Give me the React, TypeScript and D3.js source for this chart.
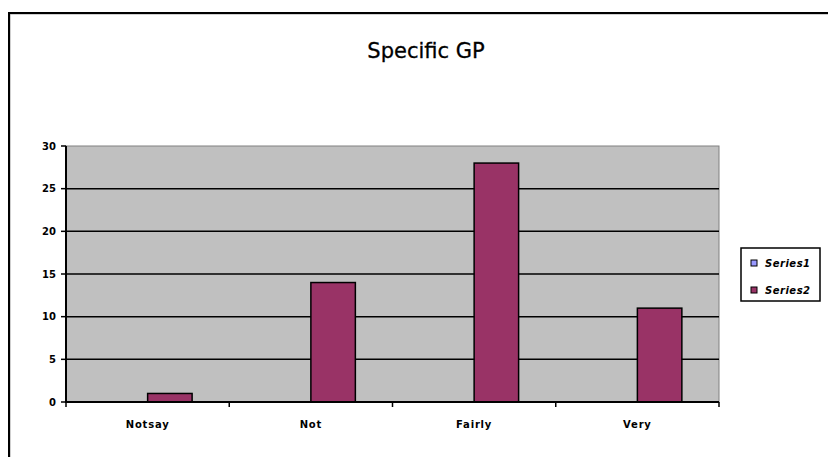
import React from "react";
import * as d3 from "d3";

const categories = ["Notsay", "Not", "Fairly", "Very"];
const series1: (number | null)[] = [null, null, null, null];
const series2 = [1, 14, 28, 11];
const seriesNames = ["Series1", "Series2"];
const seriesColors = ["#9999ff", "#993366"];
const yTicks = [0, 5, 10, 15, 20, 25, 30];
const title = "Specific GP";

const W = 828;
const H = 457;
const plot = { left: 66, right: 719, top: 146, bottom: 402 };

export default function App() {
  const x = d3
    .scaleBand<string>()
    .domain(categories)
    .range([plot.left, plot.right])
    .paddingInner(0)
    .paddingOuter(0);
  const y = d3.scaleLinear().domain([0, 30]).range([plot.bottom, plot.top]);
  const bw = x.bandwidth() * 0.2725;
  const seriesData = [series1, series2];
  const labelFont = "'DejaVu Sans', sans-serif";

  return (
    <svg
      width={W}
      height={H}
      style={{ position: "absolute", left: 0, top: 0, background: "#fff" }}
    >
      {/* outer frame */}
      <rect x={10} y={14} width={W} height={H} fill="none" stroke="#a0a0a0" strokeWidth={1} />
      <rect x={9} y={13} width={W + 10} height={H + 10} fill="none" stroke="#000" strokeWidth={2} />

      <text
        x={426}
        y={58}
        textAnchor="middle"
        fontFamily={labelFont}
        fontSize={21}
        fill="#000"
        stroke="#000"
        strokeWidth={0.3}
      >
        {title}
      </text>

      {/* plot area */}
      <rect
        x={plot.left}
        y={plot.top}
        width={plot.right - plot.left}
        height={plot.bottom - plot.top}
        fill="#c0c0c0"
        stroke="#808080"
        strokeWidth={1}
      />

      {/* gridlines */}
      {yTicks
        .filter((t) => t > 0 && t < 30)
        .map((t) => (
          <line
            key={"g" + t}
            x1={plot.left}
            x2={plot.right}
            y1={y(t)}
            y2={y(t)}
            stroke="#000"
            strokeWidth={1.5}
          />
        ))}

      {/* bars */}
      {seriesData.map((vals, si) =>
        vals.map((v, i) => {
          if (v === null || v === 0) return null;
          const cx = (x(categories[i]) as number) + x.bandwidth() / 2;
          const bx = cx - bw + si * bw;
          return (
            <rect
              key={`b${si}-${i}`}
              x={bx}
              y={y(v)}
              width={bw}
              height={y(0) - y(v)}
              fill={seriesColors[si]}
              stroke="#000"
              strokeWidth={1.5}
            />
          );
        })
      )}

      {/* axes */}
      <line x1={plot.left} x2={plot.left} y1={plot.top} y2={plot.bottom + 1} stroke="#000" strokeWidth={2} />
      <line x1={plot.left - 1} x2={plot.right} y1={plot.bottom} y2={plot.bottom} stroke="#000" strokeWidth={2} />

      {yTicks.map((t) => (
        <g key={"yt" + t}>
          <line x1={plot.left - 5} x2={plot.left} y1={y(t)} y2={y(t)} stroke="#000" strokeWidth={1.5} />
          <text
            x={plot.left - 10}
            y={y(t) + 3.5}
            textAnchor="end"
            fontFamily={labelFont}
            fontWeight="bold"
            fontSize={10}
            fill="#000"
          >
            {t}
          </text>
        </g>
      ))}

      {[...categories.map((c) => x(c) as number), plot.right].map((px, i) => (
        <line key={"xt" + i} x1={px} x2={px} y1={plot.bottom} y2={plot.bottom + 5} stroke="#000" strokeWidth={1.5} />
      ))}

      {categories.map((c) => (
        <text
          key={"xl" + c}
          x={(x(c) as number) + x.bandwidth() / 2}
          y={428}
          textAnchor="middle"
          fontFamily={labelFont}
          fontWeight="bold"
          fontSize={10}
          letterSpacing={0.8}
          fill="#000"
        >
          {c}
        </text>
      ))}

      {/* legend */}
      <rect x={741} y={248} width={79} height={53} fill="#fff" stroke="#000" strokeWidth={1.5} />
      {seriesNames.map((n, i) => (
        <g key={"lg" + n}>
          <rect
            x={751}
            y={260 + i * 27}
            width={6}
            height={6}
            fill={seriesColors[i]}
            stroke="#000"
            strokeWidth={1}
          />
          <text
            x={765}
            y={267 + i * 27}
            fontFamily={labelFont}
            fontWeight="bold"
            fontStyle="italic"
            fontSize={10}
            letterSpacing={0.5}
            fill="#000"
          >
            {n}
          </text>
        </g>
      ))}
    </svg>
  );
}
